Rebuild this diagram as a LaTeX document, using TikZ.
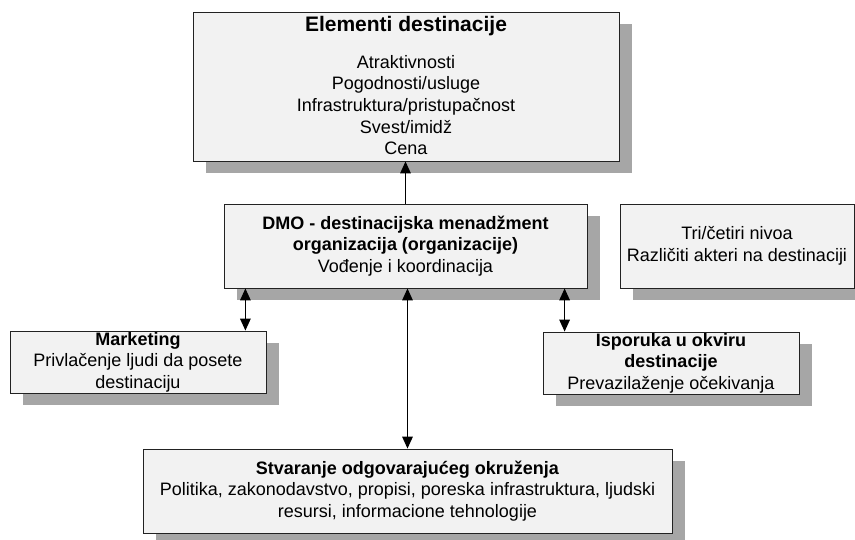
\documentclass[tikz,border=0pt]{standalone}
\usepackage{fontspec}
\setmainfont{Liberation Sans}
\usetikzlibrary{arrows.meta,shadows}

\definecolor{boxfill}{HTML}{F2F2F2}
\definecolor{shadowgray}{HTML}{A6A6A6}
\definecolor{boxline}{HTML}{222222}

\tikzset{
  box/.style={draw=boxline, line width=0.8pt, fill=boxfill, inner sep=0pt,
    align=center, font=\fontsize{18}{21.6}\selectfont,
    drop shadow={shadow xshift=13pt, shadow yshift=-12pt, opacity=1, fill=shadowgray}},
  txt/.style={inner sep=0pt, align=center, font=\fontsize{18}{21.6}\selectfont},
  tip/.tip={Triangle[length=12pt,width=10.5pt]},
  arr/.style={line width=1.5pt, -tip},
  darr/.style={line width=1.5pt, tip-tip},
}

\begin{document}
\begin{tikzpicture}[x=1pt, y=-1pt]
  \useasboundingbox (0,0) rectangle (855,539);
  \clip (0,0) rectangle (855,539);

  % destination elements
  \node[box, minimum width=426pt, minimum height=149pt] (elem) at (406,86.5) {};
  \node[txt, font=\fontsize{21}{24}\selectfont\bfseries] (elemtitle) at (406,26) {Elementi destinacije};
  \node[txt] (elembody) at (406,105)
    {Atraktivnosti\\Pogodnosti/usluge\\Infrastruktura/pristupačnost\\Svest/imidž\\Cena};

  % DMO
  \node[box, minimum width=363pt, minimum height=84pt] (dmo) at (405.5,246)
    {\textbf{DMO - destinacijska menadžment}\\\textbf{organizacija (organizacije)}\\Vođenje i koordinacija};

  % levels / actors
  \node[box, minimum width=234pt, minimum height=84pt] (tri) at (737,246)
    {Tri/četiri nivoa\\Različiti akteri na destinaciji};

  % marketing
  \node[box, minimum width=256pt, minimum height=62pt] (mkt) at (138,362)
    {\textbf{Marketing}\\Privlačenje ljudi da posete\\destinaciju};

  % delivery
  \node[box, minimum width=256pt, minimum height=62pt] (isp) at (671,363)
    {\textbf{Isporuka u okviru}\\\textbf{destinacije}\\Prevazilaženje očekivanja};

  % environment
  \node[box, minimum width=529pt, minimum height=84pt] (env) at (407.5,491)
    {\textbf{Stvaranje odgovarajućeg okruženja}\\Politika, zakonodavstvo, propisi, poreska infrastruktura, ljudski\\resursi, informacione tehnologije};

  % connectors
  \draw[arr] (dmo.north) -- (dmo.north |- elem.south);
  \draw[darr] ([xshift=-21pt]mkt.north east) coordinate (mk) -- (mk |- dmo.south);
  \draw[darr] ([xshift=22pt]isp.north west) coordinate (ik) -- (ik |- dmo.south);
  \draw[darr] (env.north) -- (env.north |- dmo.south);
\end{tikzpicture}
\end{document}
